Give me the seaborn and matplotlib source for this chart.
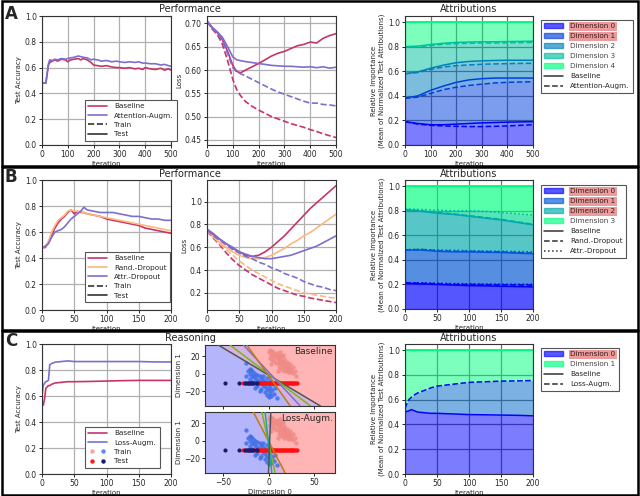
import numpy as np
import matplotlib
matplotlib.use("Agg")
import matplotlib.pyplot as plt
import seaborn as sns
from matplotlib.lines import Line2D
from matplotlib.patches import Patch, Rectangle
from matplotlib.legend_handler import HandlerTuple

# === Data: row A (attention augmentation) ===
a_acc_iter = [0, 15, 20, 25, 30, 40, 50, 60, 75, 90, 100, 110, 125, 140, 150, 160, 175, 190, 200,
              215, 230, 250, 270, 290, 300, 320, 340, 360, 375, 390, 400, 420, 440, 460, 475, 490, 500]
a_acc_base = [0.48, 0.48, 0.55, 0.62, 0.64, 0.65, 0.66, 0.65, 0.665, 0.66, 0.645, 0.66, 0.665, 0.67, 0.66,
              0.67, 0.66, 0.64, 0.62, 0.615, 0.61, 0.615, 0.605, 0.60, 0.60, 0.595, 0.60, 0.59, 0.595,
              0.585, 0.60, 0.59, 0.585, 0.595, 0.58, 0.59, 0.58]
a_acc_attn = [0.48, 0.48, 0.56, 0.63, 0.66, 0.655, 0.665, 0.66, 0.67, 0.665, 0.67, 0.675, 0.68, 0.69, 0.685,
              0.68, 0.675, 0.66, 0.665, 0.66, 0.65, 0.655, 0.645, 0.65, 0.645, 0.64, 0.645, 0.64, 0.645,
              0.635, 0.635, 0.63, 0.63, 0.62, 0.625, 0.615, 0.61]

a_loss_iter = [0, 20, 40, 60, 80, 100, 115, 130, 150, 175, 200, 225, 250, 275, 300, 325, 350, 375, 400,
               425, 450, 475, 500]
a_loss_base_test = [0.705, 0.690, 0.680, 0.665, 0.640, 0.610, 0.597, 0.594, 0.600, 0.607, 0.614, 0.622,
                    0.630, 0.636, 0.640, 0.646, 0.652, 0.655, 0.660, 0.658, 0.668, 0.674, 0.678]
a_loss_attn_test = [0.705, 0.692, 0.682, 0.670, 0.650, 0.628, 0.622, 0.620, 0.618, 0.616, 0.614, 0.612,
                    0.610, 0.609, 0.608, 0.608, 0.607, 0.606, 0.607, 0.605, 0.607, 0.604, 0.606]
a_loss_base_train = [0.705, 0.688, 0.676, 0.655, 0.620, 0.580, 0.558, 0.545, 0.532, 0.522, 0.514, 0.507,
                     0.500, 0.495, 0.490, 0.485, 0.481, 0.477, 0.472, 0.468, 0.463, 0.459, 0.455]
a_loss_attn_train = [0.705, 0.690, 0.680, 0.662, 0.635, 0.605, 0.596, 0.592, 0.587, 0.580, 0.573, 0.566,
                     0.559, 0.553, 0.548, 0.543, 0.538, 0.533, 0.529, 0.529, 0.526, 0.525, 0.523]

a_attr_iter = [0, 50, 100, 150, 200, 250, 300, 350, 400, 450, 500]
a_attr_base = [
    [0.19, 0.175, 0.165, 0.165, 0.17, 0.175, 0.18, 0.183, 0.186, 0.188, 0.19],
    [0.38, 0.40, 0.445, 0.48, 0.51, 0.53, 0.54, 0.545, 0.545, 0.545, 0.545],
    [0.58, 0.595, 0.625, 0.65, 0.67, 0.68, 0.685, 0.688, 0.69, 0.69, 0.69],
    [0.80, 0.805, 0.818, 0.828, 0.835, 0.838, 0.84, 0.84, 0.842, 0.843, 0.845],
]
a_attr_attn = [
    [0.19, 0.17, 0.16, 0.155, 0.152, 0.15, 0.15, 0.152, 0.155, 0.16, 0.165],
    [0.38, 0.39, 0.42, 0.45, 0.47, 0.485, 0.495, 0.505, 0.51, 0.513, 0.515],
    [0.58, 0.59, 0.615, 0.635, 0.645, 0.652, 0.657, 0.66, 0.662, 0.664, 0.665],
    [0.80, 0.80, 0.81, 0.82, 0.825, 0.828, 0.83, 0.83, 0.832, 0.833, 0.835],
]

# === Data: row B (dropout) ===
b_acc_iter = [0, 5, 10, 15, 20, 25, 30, 35, 40, 45, 50, 55, 60, 65, 70, 80, 90, 100, 110, 120, 130,
              140, 150, 160, 170, 180, 190, 200]
b_acc_base = [0.48, 0.48, 0.52, 0.58, 0.63, 0.67, 0.70, 0.72, 0.75, 0.77, 0.74, 0.76, 0.75, 0.75, 0.74,
              0.73, 0.72, 0.70, 0.69, 0.68, 0.67, 0.66, 0.65, 0.63, 0.62, 0.61, 0.60, 0.59]
b_acc_rand = [0.48, 0.49, 0.53, 0.60, 0.65, 0.69, 0.71, 0.73, 0.76, 0.77, 0.76, 0.76, 0.755, 0.75, 0.74,
              0.73, 0.72, 0.71, 0.70, 0.69, 0.68, 0.67, 0.66, 0.65, 0.64, 0.63, 0.62, 0.61]
b_acc_attr = [0.48, 0.49, 0.51, 0.56, 0.60, 0.61, 0.62, 0.64, 0.67, 0.70, 0.72, 0.74, 0.76, 0.79, 0.77,
              0.76, 0.75, 0.75, 0.75, 0.74, 0.73, 0.72, 0.72, 0.71, 0.70, 0.70, 0.69, 0.69]

b_loss_iter = [0, 10, 20, 30, 40, 50, 60, 70, 80, 90, 100, 110, 120, 130, 140, 150, 160, 170, 180, 190, 200]
b_loss_base_test = [0.75, 0.71, 0.67, 0.63, 0.59, 0.56, 0.53, 0.52, 0.53, 0.56, 0.60, 0.65, 0.70, 0.76,
                    0.82, 0.88, 0.94, 0.99, 1.04, 1.09, 1.14]
b_loss_rand_test = [0.73, 0.69, 0.64, 0.60, 0.56, 0.53, 0.51, 0.50, 0.50, 0.51, 0.53, 0.56, 0.59, 0.63,
                    0.66, 0.70, 0.73, 0.77, 0.81, 0.85, 0.89]
b_loss_attr_test = [0.76, 0.72, 0.67, 0.63, 0.60, 0.56, 0.54, 0.52, 0.51, 0.50, 0.50, 0.51, 0.52, 0.53,
                    0.55, 0.57, 0.59, 0.61, 0.64, 0.67, 0.70]
b_loss_base_train = [0.74, 0.68, 0.62, 0.55, 0.49, 0.44, 0.40, 0.36, 0.33, 0.30, 0.27, 0.24, 0.22, 0.20,
                     0.18, 0.17, 0.155, 0.145, 0.135, 0.125, 0.115]
b_loss_rand_train = [0.74, 0.69, 0.63, 0.58, 0.53, 0.48, 0.44, 0.40, 0.37, 0.34, 0.31, 0.28, 0.26, 0.24,
                     0.22, 0.20, 0.19, 0.18, 0.17, 0.16, 0.155]
b_loss_attr_train = [0.75, 0.70, 0.66, 0.62, 0.58, 0.55, 0.52, 0.50, 0.47, 0.45, 0.42, 0.40, 0.37, 0.35,
                     0.33, 0.30, 0.28, 0.26, 0.25, 0.23, 0.22]

b_attr_iter = [0, 25, 50, 75, 100, 125, 150, 175, 200]
b_attr_base = [
    [0.21, 0.205, 0.20, 0.195, 0.19, 0.188, 0.185, 0.182, 0.18],
    [0.48, 0.48, 0.47, 0.465, 0.465, 0.462, 0.46, 0.455, 0.45],
    [0.81, 0.795, 0.78, 0.77, 0.755, 0.74, 0.725, 0.705, 0.685],
]
b_attr_rand = [
    [0.215, 0.21, 0.205, 0.20, 0.20, 0.198, 0.196, 0.195, 0.195],
    [0.48, 0.485, 0.475, 0.47, 0.47, 0.467, 0.465, 0.46, 0.455],
    [0.81, 0.80, 0.785, 0.775, 0.76, 0.745, 0.73, 0.71, 0.69],
]
b_attr_attr = [
    [0.215, 0.212, 0.21, 0.207, 0.205, 0.203, 0.202, 0.201, 0.20],
    [0.485, 0.485, 0.48, 0.478, 0.475, 0.472, 0.47, 0.468, 0.465],
    [0.815, 0.81, 0.805, 0.80, 0.80, 0.795, 0.785, 0.775, 0.765],
]

# === Data: row C (reasoning) ===
c_acc_iter = [0, 2, 4, 6, 8, 10, 12, 15, 20, 30, 40, 50, 75, 100, 125, 150, 175, 200]
c_acc_base = [0.53, 0.53, 0.58, 0.66, 0.67, 0.68, 0.68, 0.69, 0.70, 0.705, 0.71, 0.71, 0.712, 0.715,
              0.718, 0.72, 0.72, 0.72]
c_acc_loss = [0.60, 0.68, 0.70, 0.71, 0.715, 0.72, 0.84, 0.85, 0.86, 0.865, 0.87, 0.865, 0.865, 0.865,
              0.865, 0.865, 0.862, 0.862]

c_attr_iter = [0, 3, 6, 10, 15, 20, 30, 40, 50, 75, 100, 125, 150, 175, 200]
c_attr_base = [[0.50, 0.505, 0.51, 0.52, 0.51, 0.50, 0.495, 0.49, 0.49, 0.485, 0.48, 0.478, 0.476, 0.474, 0.47]]
c_attr_loss = [[0.53, 0.57, 0.60, 0.62, 0.64, 0.655, 0.675, 0.695, 0.71, 0.725, 0.74, 0.745, 0.75, 0.752, 0.755]]

# training points (2D toy data)
train0_x = [-25, -21, -23, -19, -17, -20, -15, -13, -18, -16, -10, -14, -8, -12, -6, -10, -4, -7, -2, -5,
            0, -3, 2, -1, 4, 1, -2, 3, 6, 9, -21, -17, -13, -8, -4, 0, -25, -6, -2, 2, 5, 7, -10, -15]
train0_y = [12, 6, 3, 4, 2, 0, 0, -1, -3, -4, -3, -6, -5, -8, -7, -10, -9, -12, -11, -14, -13, -16, -16,
            -19, -19, -22, -24, -25, -23, -28, -6, -10, -14, -17, -21, -27, -2, -2, -5, -8, -12, -16, -20, -16]
train1_x = [2, 0, 4, 6, 3, 5, 8, 7, 11, 10, 13, 6, 12, 15, 14, 11, 17, 16, 13, 19, 18, 15, 21, 20, 17, 23,
            22, 19, 25, 24, 21, 27, 9, 11, 14, 17, 20, 23, 27, 1, 4, 8, 11, 14, 17, 3, 10, 29, 13, 16, 30]
train1_y = [27, 25, 26, 24, 22, 20, 21, 19, 19, 17, 17, 15, 15, 14, 13, 12, 13, 11, 11, 11, 9, 9, 9, 7, 7,
            7, 5, 4, 4, 2, 2, 1, 24, 22, 20, 17, 14, 11, 8, 18, 16, 12, 8, 5, 3, 11, 3, 3, 25, 22, -2]
test1_x = [-28, -26.5, -16, -12, -10.5, -9, -8.2, -7, -5.8, -4.5, -3.6, -2.4, -1, 0.3, 1.5, 2.2, 3.6, 4.8,
           5.5, 6.9, 8.1, 9.0, 10.2, 11.4, 12.3, 13.7, 14.6, 15.8, 17.0, 17.9, 19.1, 20.4, 21.2, 22.5, 23.3,
           24.6, 25.4, 26.2, 27.5, 28.4, 29.6, 30.8]
test0_x = [-48, -33, -25.5, -24.2, -23.1, -22.0, -20.6, -19.5, -18.3, -17.4, -14.2, -13.1]
test_y_level = -10.5

# decision boundaries: x at top / bottom of the panel
base_bound_top = [-55.5, -42.5, -27.8, -24]
base_bound_bot = [57, 46, 34.8, 23.8]
base_bound_col = ['#555555', '#7cb518', '#7f72c8', '#c07a10']
loss_bound_top = [-16.8, -7.5, -3.9, 2.4]
loss_bound_bot = [18.2, 7.2, 3.5, -0.2]
loss_bound_col = ['#c07a10', '#7cb518', '#1fa5a0', '#555555']

# === Style ===
sns.set_style("ticks")
plt.rcParams['font.family'] = ['DejaVu Sans']

c_base = '#c8336c'
c_attn = '#7b6fcf'
c_rand = '#fbb97c'
c_attrd = '#7b6fcf'

TICK = 5.5
LAB = 5
LEG = 5.2

W, H = 640, 496
fig = plt.figure(figsize=(6.4, 4.96), dpi=100)


def box(l, t, r, b):
    return fig.add_axes([l / W, 1 - b / H, (r - l) / W, (b - t) / H])


def style(ax, grid_col='#b0b0b0'):
    ax.grid(True, color=grid_col, lw=0.9)
    ax.tick_params(labelsize=TICK, length=2.5, width=0.7, pad=1.2)
    for s in ax.spines.values():
        s.set_linewidth(0.8)
        s.set_color('#333333')


def line(ax, x, y, c, ls='-'):
    sns.lineplot(x=x, y=y, color=c, linestyle=ls, lw=1.2, ax=ax)


def acc_axes(ax, xmax, step):
    ax.set_xlim(0, xmax)
    ax.set_ylim(0, 1)
    ax.set_xticks(np.arange(0, xmax + 1, step))
    ax.set_yticks(np.arange(0, 1.01, 0.2))
    ax.set_xlabel('Iteration', fontsize=LAB, labelpad=1)
    ax.set_ylabel('Test Accuracy', fontsize=LAB, labelpad=2)
    style(ax)


def attr_plot(ax, iters, models, styles, n_dims):
    cmap = plt.get_cmap('winter')
    cols = [cmap(i / (n_dims - 1)) for i in range(n_dims)]
    it = np.array(iters)
    for bounds, ls in zip(models, styles):
        b = [np.zeros(len(it))] + [np.array(v) for v in bounds] + [np.ones(len(it))]
        for d in range(n_dims):
            ax.fill_between(it, b[d], b[d + 1], color=cols[d], alpha=0.3, lw=0)
        for d, v in enumerate(bounds):
            sns.lineplot(x=it, y=v, color=cols[d], linestyle=ls, lw=1.1, ax=ax)
    ax.axhline(1.0, color=cols[-1], lw=1.4)
    ax.set_xlim(0, iters[-1])
    ax.set_ylim(0, 1.05)
    ax.set_xlabel('Iteration', fontsize=LAB, labelpad=1)
    ax.set_ylabel('Relative Importance\n(Mean of Normalized Test Attributions)', fontsize=LAB, labelpad=2)
    style(ax, '#707070')
    return cols


def attr_legend(ax, cols, highlight, names, styles, anchor):
    handles = [Patch(facecolor=c, edgecolor=c, alpha=0.65) for c in cols]
    labels = [f'Dimension {i}' for i in range(len(cols))]
    handles += [Line2D([], [], color='#333333', lw=1.1, ls=s) for s in styles]
    labels += names
    leg = fig.legend(handles, labels, loc='upper left', bbox_to_anchor=(anchor[0] / W, 1 - anchor[1] / H),
                     fontsize=LEG, frameon=True, fancybox=False, edgecolor='#555555', framealpha=1,
                     handlelength=2.6, labelspacing=0.55, borderpad=0.5, handletextpad=1.0)
    leg.get_frame().set_linewidth(0.8)
    for i, t in enumerate(leg.get_texts()):
        if i < len(cols):
            t.set_color('#444444')
        if i in highlight:
            t.set_bbox(dict(facecolor='#eb9b9b', edgecolor='none', pad=1.0))
            t.set_color('#3a1a1a')


def perf_legend(ax, handles, labels, anchor):
    leg = fig.legend(handles, labels, loc='upper left', bbox_to_anchor=(anchor[0] / W, 1 - anchor[1] / H),
                     fontsize=LEG, frameon=True, fancybox=False, edgecolor='#555555', framealpha=1,
                     handlelength=2.6, labelspacing=0.45, borderpad=0.5, handletextpad=1.0,
                     handler_map={tuple: HandlerTuple(ndivide=None)})
    leg.get_frame().set_linewidth(0.8)


# ================= Row A =================
ax = box(42, 16, 171, 145)
line(ax, a_acc_iter, a_acc_base, c_base)
line(ax, a_acc_iter, a_acc_attn, c_attn)
acc_axes(ax, 500, 100)
perf_legend(ax, [Line2D([], [], color=c_base, lw=1.2), Line2D([], [], color=c_attn, lw=1.2),
                 Line2D([], [], color='#333333', lw=1.2, ls='--'), Line2D([], [], color='#333333', lw=1.2)],
            ['Baseline', 'Attention-Augm.', 'Train', 'Test'], (81, 96))

ax = box(207, 16, 336, 145)
line(ax, a_loss_iter, a_loss_base_test, c_base)
line(ax, a_loss_iter, a_loss_attn_test, c_attn)
line(ax, a_loss_iter, a_loss_base_train, c_base, '--')
line(ax, a_loss_iter, a_loss_attn_train, c_attn, '--')
ax.set_xlim(0, 500)
ax.set_ylim(0.439, 0.716)
ax.set_xticks(np.arange(0, 501, 100))
ax.set_yticks([0.45, 0.50, 0.55, 0.60, 0.65, 0.70])
ax.set_yticklabels(['0.45', '0.50', '0.55', '0.60', '0.65', '0.70'])
ax.set_xlabel('Iteration', fontsize=LAB, labelpad=1)
ax.set_ylabel('Loss', fontsize=LAB, labelpad=2)
style(ax)

ax = box(405, 16, 533, 145)
cols = attr_plot(ax, a_attr_iter, [a_attr_base, a_attr_attn], ['-', '--'], 5)
ax.set_xticks(np.arange(0, 501, 100))
attr_legend(ax, cols, [0, 1], ['Baseline', 'Attention-Augm.'], ['-', '--'], (537, 16))

# ================= Row B =================
ax = box(42, 180, 171, 310)
line(ax, b_acc_iter, b_acc_base, c_base)
line(ax, b_acc_iter, b_acc_rand, c_rand)
line(ax, b_acc_iter, b_acc_attr, c_attrd)
acc_axes(ax, 200, 50)
perf_legend(ax, [Line2D([], [], color=c_base, lw=1.2), Line2D([], [], color=c_rand, lw=1.2),
                 Line2D([], [], color=c_attrd, lw=1.2),
                 Line2D([], [], color='#333333', lw=1.2, ls='--'), Line2D([], [], color='#333333', lw=1.2)],
            ['Baseline', 'Rand.-Dropout', 'Attr.-Dropout', 'Train', 'Test'], (81, 248))

ax = box(207, 180, 336, 310)
line(ax, b_loss_iter, b_loss_base_test, c_base)
line(ax, b_loss_iter, b_loss_rand_test, c_rand)
line(ax, b_loss_iter, b_loss_attr_test, c_attrd)
line(ax, b_loss_iter, b_loss_base_train, c_base, '--')
line(ax, b_loss_iter, b_loss_rand_train, c_rand, '--')
line(ax, b_loss_iter, b_loss_attr_train, c_attrd, '--')
ax.set_xlim(0, 200)
ax.set_ylim(0.05, 1.19)
ax.set_xticks(np.arange(0, 201, 50))
ax.set_yticks([0.2, 0.4, 0.6, 0.8, 1.0])
ax.set_xlabel('Iteration', fontsize=LAB, labelpad=1)
ax.set_ylabel('Loss', fontsize=LAB, labelpad=2)
style(ax)

ax = box(405, 180, 533, 309)
cols = attr_plot(ax, b_attr_iter, [b_attr_base, b_attr_rand, b_attr_attr], ['-', '--', ':'], 4)
ax.set_xticks(np.arange(0, 201, 50))
attr_legend(ax, cols, [0, 1, 2], ['Baseline', 'Rand.-Dropout', 'Attr.-Dropout'], ['-', '--', ':'], (537, 181))

# ================= Row C =================
ax = box(42, 344, 171, 474)
line(ax, c_acc_iter, c_acc_base, c_base)
line(ax, c_acc_iter, c_acc_loss, c_attn)
acc_axes(ax, 200, 50)
mk = dict(ls='none', marker='o', markersize=3.2, markeredgewidth=0)
perf_legend(ax, [Line2D([], [], color=c_base, lw=1.2), Line2D([], [], color=c_attn, lw=1.2),
                 (Line2D([], [], color='#f7a3a0', **mk), Line2D([], [], color='#5b8ef0', **mk)),
                 (Line2D([], [], color='#ff1a1a', **mk), Line2D([], [], color='#1a1a70', **mk))],
            ['Baseline', 'Loss-Augm.', 'Train', 'Test'], (81, 423))

xlim = (-70, 73)
ylim = (-37, 33)
for top, bot, cl, name, (t, b) in [(base_bound_top, base_bound_bot, base_bound_col, 'Baseline', (345, 406)),
                                   (loss_bound_top, loss_bound_bot, loss_bound_col, 'Loss-Augm.', (412, 473))]:
    ax = box(205, t, 335, b)
    yy = np.linspace(ylim[0], ylim[1], 300)
    xs = np.array([np.interp(yy, [ylim[0], ylim[1]], [xb, xt]) for xt, xb in zip(top, bot)])
    left, right = xs.min(0), xs.max(0)
    ax.fill_betweenx(yy, xlim[0], left, color='#b5b5fb', lw=0)
    ax.fill_betweenx(yy, left, right, color='#d7b3e3', lw=0)
    ax.fill_betweenx(yy, right, xlim[1], color='#ffb5b5', lw=0)
    sns.scatterplot(x=train0_x, y=train0_y, color='#3f6fe6', s=10, linewidth=0, alpha=0.85, ax=ax)
    sns.scatterplot(x=train1_x, y=train1_y, color='#f08a86', s=10, linewidth=0, alpha=0.85, ax=ax)
    sns.scatterplot(x=test1_x, y=[test_y_level] * len(test1_x), color='#ff1010', s=9, linewidth=0, ax=ax)
    sns.scatterplot(x=test0_x, y=[test_y_level] * len(test0_x), color='#1a1a70', s=9, linewidth=0, ax=ax)
    for xt, xb, c in zip(top, bot, cl):
        ax.plot([xb, xt], [ylim[0], ylim[1]], color=c, lw=1.1, zorder=4)
    ax.set_xlim(*xlim)
    ax.set_ylim(*ylim)
    ax.set_xticks([-50, 0, 50])
    ax.set_yticks([-20, 0, 20])
    ax.text(0.985, 0.96, name, transform=ax.transAxes, ha='right', va='top', fontsize=6.5, zorder=5)
    ax.set_ylabel('Dimension 1', fontsize=LAB, labelpad=1)
    ax.tick_params(labelsize=TICK, length=2.5, width=0.7, pad=1.2)
    for s in ax.spines.values():
        s.set_linewidth(0.8)
        s.set_color('#333333')
    if name == 'Baseline':
        ax.set_xticklabels([])
    else:
        ax.set_xlabel('Dimension 0', fontsize=LAB, labelpad=1)

ax = box(405, 344, 533, 474)
cols = attr_plot(ax, c_attr_iter, [c_attr_base, c_attr_loss], ['-', '--'], 2)
ax.set_xticks(np.arange(0, 201, 50))
attr_legend(ax, cols, [0], ['Baseline', 'Loss-Augm.'], ['-', '--'], (537, 344))

# === Titles, panel letters, frames ===
for y, left_title in [(9, 'Performance'), (174, 'Performance'), (338, 'Reasoning')]:
    fig.text(190 / W, 1 - y / H, left_title, ha='center', va='center', fontsize=7)
    fig.text(469 / W, 1 - y / H, 'Attributions', ha='center', va='center', fontsize=7)
for y, letter in [(14, 'A'), (177, 'B'), (341, 'C')]:
    fig.text(11 / W, 1 - y / H, letter, ha='center', va='center', fontsize=12, fontweight='bold')
for t, b in [(1, 166), (167, 330), (331, 494.5)]:
    fig.add_artist(Rectangle((1.5 / W, 1 - b / H), 636 / W, (b - t) / H, transform=fig.transFigure,
                             fill=False, lw=1.8, ec='black'))

fig.savefig('out.png', dpi=100)
